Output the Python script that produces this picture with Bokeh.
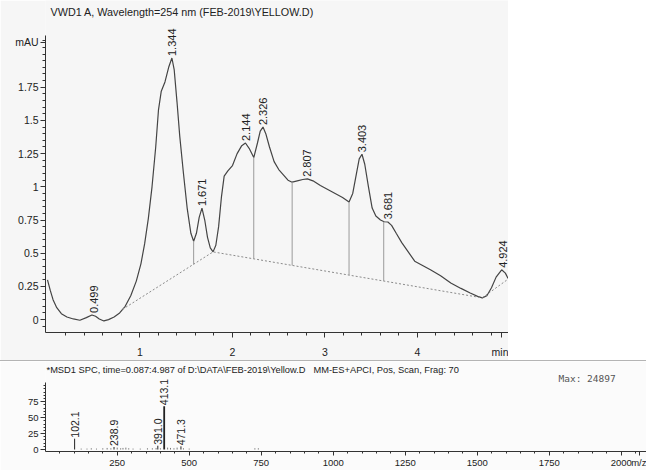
import numpy as np
from bokeh.plotting import figure
from bokeh.models import Range1d, FixedTicker, Label, LabelSet, ColumnDataSource, Div
from bokeh.core.properties import value
from bokeh.layouts import column
from bokeh.embed import file_html
from bokeh.resources import INLINE

FONT = "Liberation Sans"

# ---------------- chromatogram data (VWD1 A, 254 nm) ----------------
time_min = [0.00, 0.03, 0.06, 0.10, 0.15, 0.21, 0.28, 0.35, 0.42, 0.48, 0.52, 0.56, 0.61, 0.66,
            0.72, 0.78, 0.84, 0.90, 0.96, 1.01, 1.05, 1.09, 1.13, 1.17, 1.20, 1.23, 1.27, 1.31,
            1.345, 1.37, 1.40, 1.43, 1.47, 1.51, 1.55, 1.58, 1.61, 1.64, 1.67, 1.70, 1.73, 1.76,
            1.79, 1.82, 1.85, 1.88, 1.91, 1.95, 2.00, 2.05, 2.10, 2.14, 2.18, 2.23, 2.27, 2.30,
            2.33, 2.36, 2.40, 2.45, 2.50, 2.55, 2.60, 2.645, 2.70, 2.76, 2.81, 2.87, 2.95, 3.03,
            3.11, 3.19, 3.26, 3.30, 3.34, 3.37, 3.40, 3.43, 3.47, 3.51, 3.55, 3.60, 3.64, 3.68,
            3.72, 3.77, 3.83, 3.90, 3.97, 4.05, 4.14, 4.25, 4.36, 4.47, 4.57, 4.65, 4.70, 4.75,
            4.80, 4.85, 4.91, 4.95, 4.98]
absorbance = [0.30, 0.22, 0.15, 0.09, 0.045, 0.02, 0.005, -0.005, 0.015, 0.035, 0.025, 0.005, -0.01, 0.0,
              0.02, 0.05, 0.10, 0.18, 0.29, 0.42, 0.57, 0.76, 1.00, 1.30, 1.58, 1.72, 1.79, 1.90,
              1.97, 1.88, 1.64, 1.38, 1.10, 0.84, 0.65, 0.59, 0.65, 0.77, 0.84, 0.75, 0.62, 0.54,
              0.51, 0.56, 0.70, 0.92, 1.08, 1.12, 1.16, 1.25, 1.31, 1.33, 1.29, 1.22, 1.33, 1.42,
              1.45, 1.40, 1.30, 1.19, 1.13, 1.09, 1.05, 1.035, 1.045, 1.055, 1.06, 1.045, 1.01, 0.98,
              0.95, 0.92, 0.886, 0.95, 1.10, 1.21, 1.245, 1.17, 1.00, 0.84, 0.78, 0.75, 0.737, 0.735,
              0.71, 0.65, 0.58, 0.51, 0.44, 0.41, 0.375, 0.33, 0.276, 0.235, 0.20, 0.175, 0.164, 0.18,
              0.24, 0.32, 0.375, 0.35, 0.31]

peak_times = [0.499, 1.344, 1.671, 2.144, 2.326, 2.807, 3.403, 3.681, 4.924]
peak_heights = [0.035, 1.97, 0.84, 1.33, 1.45, 1.06, 1.245, 0.74, 0.375]
peak_labels = ["0.499", "1.344", "1.671", "2.144", "2.326", "2.807", "3.403", "3.681", "4.924"]

baseline_t = [0.81, 1.79, 4.70]
baseline_y = [0.077, 0.51, 0.164]
baseline2_t = [4.70, 4.97]
baseline2_y = [0.164, 0.30]

drop_t = [1.58, 2.23, 2.645, 3.26, 3.635]
drop_top = [0.59, 1.22, 1.035, 0.886, 0.737]

y_ticks = [0, 0.25, 0.5, 0.75, 1, 1.25, 1.5, 1.75, 2.09]
y_tick_labels = ["0", "0.25", "0.5", "0.75", "1", "1.25", "1.5", "1.75", "mAU"]
x_ticks = [1, 2, 3, 4, 4.91]
x_tick_labels = ["1", "2", "3", "4", "min"]
chart_title = "VWD1 A, Wavelength=254 nm (FEB-2019\\YELLOW.D)"

# ---------------- mass spectrum data ----------------
mz_major = [102.1, 238.9, 391.0, 413.1, 471.3]
int_major = [17, 4, 6, 68, 5]
mz_labels = ["102.1", "238.9", "391.0", "413.1", "471.3"]
mz_minor = [125, 145, 160, 178, 200, 215, 228, 250, 262, 270, 280, 290, 305, 330, 355,
            372, 385, 400, 425, 435, 447, 458, 480, 500, 728, 740]
int_minor = [1.5, 1.5, 2, 1.5, 2, 2.5, 2, 3, 2, 2.5, 3, 2, 1.5, 1.5, 2,
             2, 2.5, 2, 3, 2.5, 2, 3, 2, 1.5, 2, 2]
ms_x_ticks = [250, 500, 750, 1000, 1250, 1500, 1750, 2000, 2062]
ms_x_tick_labels = ["250", "500", "750", "1000", "1250", "1500", "1750", "2000", "m/z"]
ms_y_ticks = [0, 25, 50, 75]
ms_caption = "*MSD1 SPC, time=0.087:4.987 of D:\\DATA\\FEB-2019\\Yellow.D"
ms_caption2 = "MM-ES+APCI, Pos, Scan, Frag: 70"
ms_max = "Max: 24897"

TEXT = "#222222"
AX = "#333333"
BG = "#f6f6f6"

# ================= top figure =================
X0, X1 = -0.0216, 4.984
Y0, Y1 = -0.097, 2.403
p = figure(width=508, height=360, output_backend="svg", toolbar_location=None,
           x_range=Range1d(X0, X1), y_range=Range1d(Y0, Y1),
           min_border_left=45, min_border_right=0, min_border_top=0, min_border_bottom=25)
p.background_fill_color = BG
p.border_fill_color = BG
p.outline_line_color = None
p.xgrid.visible = False
p.ygrid.visible = False

p.line(time_min, absorbance, line_color="#444444", line_width=1.2)
p.line(baseline_t, baseline_y, line_color="#8a8a8a", line_width=1, line_dash="2 2")
p.line(baseline2_t, baseline2_y, line_color="#8a8a8a", line_width=1, line_dash="2 2")
drop_bottom = list(np.interp(drop_t, baseline_t, baseline_y))
p.segment(x0=drop_t, y0=drop_top, x1=drop_t, y1=drop_bottom, line_color="#9a9a9a", line_width=1)

src = ColumnDataSource(dict(x=peak_times, y=peak_heights, t=peak_labels))
p.add_layout(LabelSet(x="x", y="y", text="t", source=src, angle=90, angle_units="deg",
                      text_align="left", text_baseline="middle", y_offset=2,
                      text_font=value(FONT), text_font_size=value("11px"), text_color=TEXT))

p.xaxis.ticker = FixedTicker(ticks=x_ticks, minor_ticks=[round(0.2 * i, 1) for i in range(1, 25)])
p.xaxis.major_label_overrides = {v: s for v, s in zip(x_ticks, x_tick_labels)}
p.yaxis.ticker = FixedTicker(ticks=y_ticks, minor_ticks=[round(0.05 * i, 2) for i in range(-1, 43)])
p.yaxis.major_label_overrides = {v: s for v, s in zip(y_ticks, y_tick_labels)}
p.yaxis.bounds = (Y0, 2.14)
for ax in (p.xaxis, p.yaxis):
    ax.axis_line_color = AX
    ax.major_tick_line_color = AX
    ax.minor_tick_line_color = AX
    ax.major_label_text_font = FONT
    ax.major_label_text_color = TEXT
    ax.major_label_text_font_size = "10.5px"
p.yaxis.major_tick_out = 5
p.yaxis.major_tick_in = 0
p.yaxis.minor_tick_out = 3
p.yaxis.minor_tick_in = 0
p.yaxis.major_label_standoff = 2
p.xaxis.major_tick_out = 5
p.xaxis.major_tick_in = 0
p.xaxis.minor_tick_out = 3
p.xaxis.minor_tick_in = 0
p.xaxis.major_label_standoff = 8

# pixel -> data helpers for texts placed inside the frame
def ty(py):
    return (322 - py) / 134.0
def tx(px):
    return (px - 47) / 92.5

p.add_layout(Label(x=tx(50), y=ty(12), text=chart_title,
                   text_font=FONT, text_font_size="10.8px", text_color=TEXT,
                   text_align="left", text_baseline="middle"))

# ================= separator =================
sep = Div(width=646, height=1, margin=0, styles={"background-color": "#b4b4b4"})

# ================= bottom figure =================
M0, M1 = 1.0, 2087.8
I0, I1 = -3.07, 138.0
q = figure(width=646, height=109, output_backend="svg", toolbar_location=None,
           x_range=Range1d(M0, M1), y_range=Range1d(I0, I1),
           min_border_left=45, min_border_right=0, min_border_top=0, min_border_bottom=17)
q.background_fill_color = "#fbfbfb"
q.border_fill_color = "#fbfbfb"
q.outline_line_color = None
q.xgrid.visible = False
q.ygrid.visible = False

q.segment(x0=mz_minor, y0=[0] * len(mz_minor), x1=mz_minor, y1=int_minor,
          line_color="#777777", line_width=1)
q.segment(x0=mz_major, y0=[0] * len(mz_major), x1=mz_major, y1=int_major,
          line_color="#222222", line_width=[1, 1, 1, 1.8, 1])
ms_src = ColumnDataSource(dict(x=mz_major, y=int_major, t=mz_labels))
q.add_layout(LabelSet(x="x", y="y", text="t", source=ms_src, angle=90, angle_units="deg",
                      text_align="left", text_baseline="middle", y_offset=1,
                      text_font=value(FONT), text_font_size=value("10.5px"), text_color=TEXT))

q.xaxis.ticker = FixedTicker(ticks=ms_x_ticks, minor_ticks=list(range(50, 2051, 50)))
q.xaxis.major_label_overrides = {v: s for v, s in zip(ms_x_ticks, ms_x_tick_labels)}
q.yaxis.ticker = FixedTicker(ticks=ms_y_ticks, minor_ticks=list(range(0, 105, 5)))
q.yaxis.bounds = (I0, 104.3)
for ax in (q.xaxis, q.yaxis):
    ax.axis_line_color = AX
    ax.major_tick_line_color = AX
    ax.minor_tick_line_color = AX
    ax.major_label_text_font = FONT
    ax.major_label_text_color = TEXT
    ax.major_label_text_font_size = "9.5px"
q.yaxis.major_tick_out = 5
q.yaxis.major_tick_in = 0
q.yaxis.minor_tick_out = 2
q.yaxis.minor_tick_in = 0
q.yaxis.major_label_standoff = 2
q.xaxis.major_tick_out = 4
q.xaxis.major_tick_in = 0
q.xaxis.minor_tick_out = 2
q.xaxis.minor_tick_in = 0
q.xaxis.major_label_standoff = 1

def my(py):
    return (451 - py) / 0.652
def mx(px):
    return (px - 44.7) / 0.288

q.add_layout(Label(x=mx(46), y=my(370), text=ms_caption,
                   text_font=FONT, text_font_size="9.3px", text_color=TEXT,
                   text_align="left", text_baseline="middle"))
q.add_layout(Label(x=mx(313), y=my(370), text=ms_caption2,
                   text_font=FONT, text_font_size="9.3px", text_color=TEXT,
                   text_align="left", text_baseline="middle"))
q.add_layout(Label(x=mx(558), y=my(378), text=ms_max,
                   text_font="DejaVu Sans Mono", text_font_size="9.5px", text_color="#555555",
                   text_align="left", text_baseline="middle"))

layout = column(p, sep, q)
open("out.html", "w").write(file_html(layout, INLINE))
